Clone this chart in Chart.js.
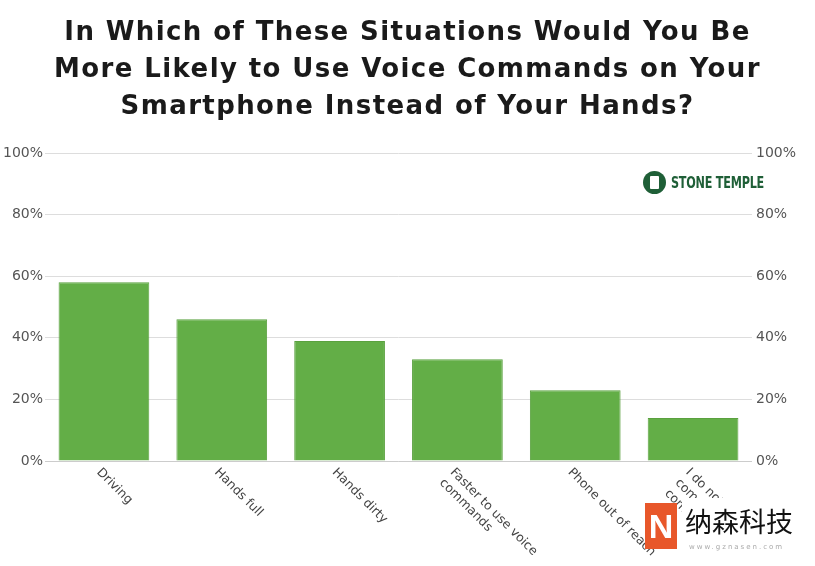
<!DOCTYPE html>
<html>
<head>
<meta charset="utf-8">
<script src="https://cdn.jsdelivr.net/npm/chart.js@4/dist/chart.umd.min.js"></script>
<style>
  html, body { margin: 0; padding: 0; background: #fff; }
  #wrap { position: relative; width: 815px; height: 566px; }
  #title { position: absolute; left: 0; top: 13px; width: 815px; text-align: center; font: bold 26px/37px "DejaVu Sans"; letter-spacing: 1.4px; color: #1a1a1a; }
  #logo { position: absolute; left: 643px; top: 171px; display: flex; align-items: center; }
  #logo .dot { width: 23px; height: 23px; border-radius: 50%; background: #1f5f37; position: relative; }
  #logo .dot::after { content: ""; position: absolute; left: 7px; top: 5px; width: 9px; height: 13px; background: #fff; border-radius: 1px; }
  #logo .txt { margin-left: 5px; font: bold 16px "DejaVu Sans Condensed", "DejaVu Sans"; color: #1f5f37; letter-spacing: -0.3px; transform: scaleX(0.78); transform-origin: left center; }
  #mark { position: absolute; left: 645px; top: 494px; width: 160px; height: 72px; }
  #mark .bg { position: absolute; left: 37px; top: 4px; width: 123px; height: 68px; background: #fff; }
  #mark .n { position: absolute; left: 0; top: 9px; width: 32px; height: 46px; background: #e8572a; color: #fff; font: bold 34px "Liberation Sans"; text-align: center; line-height: 46px; }
  #mark .cn { position: absolute; left: 40px; top: 12px; font: 27px "Noto Sans CJK SC"; color: #111; line-height: 30px; white-space: nowrap; }
  #mark .url { position: absolute; left: 44px; top: 49px; font: 7px "DejaVu Sans"; color: #aaa; letter-spacing: 2px; white-space: nowrap; }
</style>
</head>
<body>
<div id="wrap">
  <canvas id="chart" width="815" height="566"></canvas>
  <div id="title"></div>
  <div id="logo"><div class="dot"></div><div class="txt">STONE TEMPLE</div></div>
  <div id="mark"><div class="bg"></div><div class="n">N</div><div class="cn">纳森科技</div><div class="url">www.gznasen.com</div></div>
</div>
<script>
    // categories and values
    const categories = [
        ["Driving"],
        ["Hands full"],
        ["Hands dirty"],
        ["Faster to use voice", "commands"],
        ["Phone out of reach"],
        ["I do not", "commonly use voice", "commands"]
    ];
    const shares = [58, 46, 39, 33, 23, 14];
    const titleLines = [
        "In Which of These Situations Would You Be",
        "More Likely to Use Voice Commands on Your",
        "Smartphone Instead of Your Hands?"
    ];

    // title needs letter spacing, so it is set as page text
    document.getElementById("title").innerHTML = titleLines.join("<br>");

    const tickFont = { family: "DejaVu Sans", size: 14 };

    // x labels run down to the right from each tick, so draw them ourselves
    const slantLabels = {
        id: "slantLabels",
        afterDraw(chart) {
            const ctx = chart.ctx;
            const xs = chart.scales.x;
            const top = chart.chartArea.bottom + 5;
            ctx.save();
            ctx.font = "12.5px 'DejaVu Sans'";
            ctx.fillStyle = "#444";
            ctx.textAlign = "left";
            ctx.textBaseline = "top";
            categories.forEach(function(lines, i) {
                ctx.save();
                ctx.translate(xs.getPixelForTick(i) - 1, top);
                ctx.rotate(Math.PI / 4);
                lines.forEach(function(line, j) {
                    ctx.fillText(line, 0, j * 15);
                });
                ctx.restore();
            });
            ctx.restore();
        }
    };

    new Chart(document.getElementById("chart"), {
        type: "bar",
        data: {
            labels: categories.map(c => c.join(" ")),
            datasets: [{
                data: shares,
                backgroundColor: "#63ae47",
                borderColor: "#5aa13f",
                borderWidth: 1,
                barPercentage: 0.77,
                categoryPercentage: 1
            }]
        },
        options: {
            responsive: false,
            animation: false,
            layout: { padding: { left: 1, right: 15, top: 153, bottom: 97 } },
            plugins: {
                legend: { display: false },
                tooltip: { enabled: false }
            },
            scales: {
                x: {
                    ticks: { display: false },
                    grid: { display: false },
                    border: { color: "#ccc" }
                },
                y: {
                    position: "left",
                    min: 0, max: 100,
                    ticks: { color: "#555", font: tickFont, padding: 2, stepSize: 20, callback: v => v + "%" },
                    grid: { color: "#ddd", drawTicks: false },
                    border: { display: false }
                },
                y2: {
                    position: "right",
                    min: 0, max: 100,
                    ticks: { color: "#555", font: tickFont, padding: 4, stepSize: 20, callback: v => v + "%" },
                    grid: { display: false, drawTicks: false },
                    border: { display: false }
                }
            }
        },
        plugins: [slantLabels]
    });
</script>
</body>
</html>
